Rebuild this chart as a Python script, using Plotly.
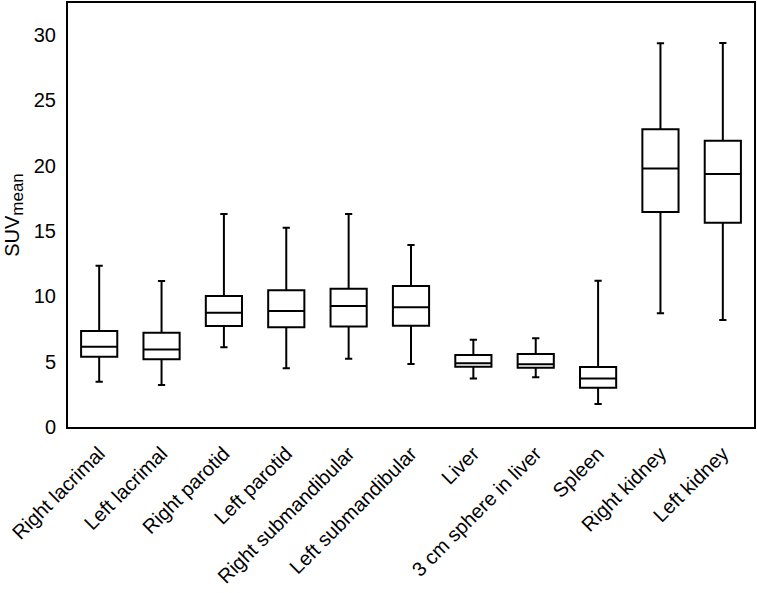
import plotly.graph_objects as go

categories = ["Right lacrimal", "Left lacrimal", "Right parotid", "Left parotid",
              "Right submandibular", "Left submandibular", "Liver",
              "3 cm sphere in liver", "Spleen", "Right kidney", "Left kidney"]
lower_whisker = [3.47, 3.21, 6.10, 4.49, 5.23, 4.82, 3.72, 3.80, 1.76, 8.70, 8.19]
q1_values     = [5.38, 5.18, 7.73, 7.63, 7.70, 7.75, 4.61, 4.54, 3.01, 16.45, 15.63]
median_values = [6.14, 5.94, 8.75, 8.88, 9.26, 9.16, 4.87, 4.80, 3.72, 19.79, 19.36]
q3_values     = [7.34, 7.22, 10.02, 10.46, 10.58, 10.79, 5.51, 5.59, 4.59, 22.78, 21.90]
upper_whisker = [12.34, 11.17, 16.30, 15.25, 16.30, 13.93, 6.68, 6.79, 11.19, 29.36, 29.38]
y_ticks = [0, 5, 10, 15, 20, 25, 30]

fig = go.Figure()
fig.add_trace(go.Box(
    x=categories,
    q1=q1_values, median=median_values, q3=q3_values,
    lowerfence=lower_whisker, upperfence=upper_whisker,
    boxpoints=False,
    fillcolor="white",
    line=dict(color="black", width=2),
    whiskerwidth=0.2,
    width=0.58,
    showlegend=False,
    hoverinfo="skip",
))

font = dict(family="Liberation Sans, Arial, sans-serif", size=20, color="black")
fig.update_layout(
    width=757, height=593,
    margin=dict(l=68, r=3, t=3, b=166),
    paper_bgcolor="white", plot_bgcolor="white",
    font=font,
    showlegend=False,
)
fig.update_xaxes(
    type="category",
    range=[-0.5, 10.5],
    tickangle=-45,
    showline=True, linecolor="black", linewidth=2, mirror=True,
    showgrid=False, ticks="", tickfont=font, ticklabelstandoff=5,
    automargin=False,
)
fig.update_yaxes(
    range=[0, 32.45],
    tickvals=y_ticks,
    showline=True, linecolor="black", linewidth=2, mirror=True,
    showgrid=False, zeroline=False, ticks="",
    tickfont=font, ticklabelstandoff=6,
    title=dict(text="SUV<sub><span style='font-size:17px'>mean</span></sub>",
               font=font, standoff=9),
    automargin=False,
)

fig.write_html("out.html", config={"displayModeBar": False},
               post_script="document.body.style.margin='0';")
